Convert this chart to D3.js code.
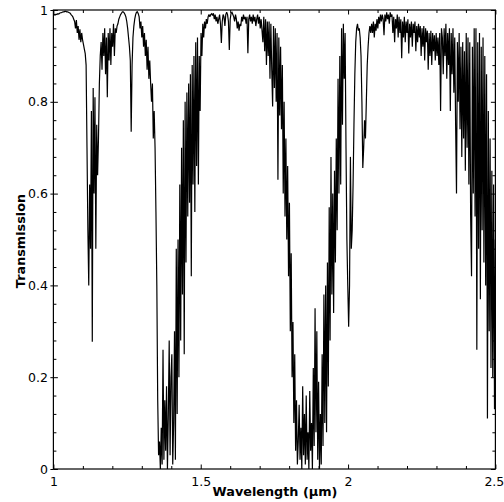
<!DOCTYPE html>
<html><head><meta charset="utf-8">
<script src="https://cdn.jsdelivr.net/npm/d3@7"></script>
<style>html,body{margin:0;padding:0;background:#fff;} svg{display:block;font-family:"DejaVu Sans",Verdana,sans-serif;}</style>
</head><body><svg id="c" width="504" height="502"></svg>
<script>
// sampling grid of the spectrum (µm)
const wavelengthStart = 1.0;
const wavelengthStep = 0.003;
// transmission, one value per grid step
const transmission = [
 0.988,0.99,0.989,0.991,0.99,0.992,0.991,0.993,0.994,0.994,0.995,0.996,0.996,0.997,0.997,0.996,0.996,0.995,0.994,0.993,0.99,0.988,0.985,0.98,
 0.975,0.96,0.978,0.95,0.965,0.935,0.958,0.93,0.95,0.935,
 0.925,0.915,0.905,
 0.88,0.70,0.52,0.40,0.62,0.48,0.78,0.277,0.83,0.60,0.81,0.48,0.75,0.64,0.72,0.84,0.90,
 0.93,0.87,0.95,0.90,0.96,0.86,0.94,0.81,0.95,0.89,0.96,0.88,0.95,0.92,0.97,0.90,0.96,
 0.95,0.965,0.97,0.98,0.985,0.99,0.993,0.996,0.996,0.994,0.99,
 0.985,0.975,0.96,0.94,0.92,
 0.89,0.735,0.88,
 0.94,0.965,0.98,0.99,0.995,0.996,0.992,
 0.985,0.96,0.975,0.94,0.965,0.92,0.95,0.90,0.935,0.87,0.92,0.85,0.89,0.84,
 0.80,0.84,0.72,0.78,0.70,
 0.56,0.40,0.15,0.03,
 0.06,0.0,0.09,0.01,0.26,0.02,0.15,0.04,0.18,0.0,0.12,0.28,0.03,0.20,0.25,0.01,0.10,
 0.30,0.02,0.48,0.12,0.50,0.20,0.62,0.28,0.70,0.38,0.76,0.25,0.80,0.45,0.82,0.55,0.84,0.58,0.86,0.42,0.88,0.62,0.90,0.56,0.93,0.66,0.94,
 0.62,0.90,0.78,0.95,0.90,0.97,0.94,0.975,0.96,0.98,0.97,0.985,
 0.99,0.985,0.99,0.992,0.988,0.993,0.98,0.99,0.975,0.985,0.97,0.98,0.99,0.97,0.928,0.975,0.99,0.985,0.965,0.99,
 0.995,0.99,0.975,0.913,0.98,0.993,0.995,0.99,0.985,0.975,0.99,0.98,0.96,0.975,0.955,0.97,0.965,0.985,0.975,0.99,
 0.98,0.985,0.97,0.985,0.906,0.98,0.99,0.975,0.985,0.97,0.99,0.975,0.985,0.965,0.98,0.99,0.97,0.985,0.96,0.98,0.955,
 0.93,0.985,0.91,0.98,0.88,0.975,0.90,0.975,0.85,0.97,0.87,0.79,0.965,0.83,0.96,0.80,0.95,0.63,0.94,0.77,0.92,0.74,0.88,0.60,
 0.80,0.55,0.72,0.50,0.66,0.42,0.58,0.30,0.47,0.20,0.32,0.10,0.25,0.04,0.15,0.01,
 0.06,0.14,0.02,0.09,0.0,0.18,0.03,0.12,0.01,0.16,0.02,0.08,0.0,0.17,0.04,0.10,0.0,0.22,0.05,0.35,0.08,0.30,0.02,0.19,0.0,0.12,0.01,0.25,0.05,0.38,
 0.10,0.40,0.08,0.45,0.18,0.57,0.28,0.68,0.38,0.60,0.34,0.65,0.45,0.72,0.52,0.85,0.60,0.90,0.62,0.96,0.75,0.97,0.85,0.95,
 0.70,0.50,0.40,0.31,0.40,0.68,0.48,0.52,0.62,0.75,0.86,0.93,0.96,0.97,0.955,0.96,0.94,0.90,0.80,0.656,0.70,0.76,0.72,0.80,0.88,0.92,0.95,0.965,0.95,0.97,
 0.95,0.975,0.94,0.97,0.955,0.98,0.96,0.985,0.97,0.99,
 0.975,0.99,0.98,0.945,0.99,0.975,0.995,0.98,0.99,0.97,
 0.995,0.985,0.99,0.95,0.985,0.93,0.98,0.96,0.99,0.94,
 0.985,0.95,0.98,0.895,0.975,0.94,0.985,0.93,0.975,0.95,
 0.98,0.905,0.97,0.94,0.975,0.92,0.97,0.95,0.975,0.91,
 0.965,0.93,0.97,0.94,0.965,0.90,0.96,0.92,0.965,0.89,
 0.96,0.93,0.955,0.87,0.95,0.90,0.955,0.88,0.95,0.91,
 0.945,0.89,0.95,0.90,0.94,0.88,0.95,0.78,0.96,
 0.94,0.86,0.96,0.90,0.97,0.85,0.95,0.88,0.96,0.78,0.95,0.86,0.96,0.82,0.94,0.75,0.60,0.93,0.80,0.95,0.74,0.92,0.68,0.93,0.72,0.91,0.65,
 0.95,0.70,0.94,0.62,0.93,0.55,0.42,0.92,0.60,0.96,0.55,0.96,0.26,0.93,0.48,0.95,0.37,0.92,0.52,0.94,
 0.45,0.90,0.40,0.86,0.11,0.78,0.30,0.72,0.22,0.65,0.20,0.62,0.13,0.50
];
const xMajorTicks = [1, 1.5, 2, 2.5];
const xTickLabels = ["1", "1.5", "2", "2.5"];
const xMinorTicks = [1.1,1.2,1.3,1.4,1.6,1.7,1.8,1.9,2.1,2.2,2.3,2.4];
const yMajorTicks = [0, 0.2, 0.4, 0.6, 0.8, 1];
const yTickLabels = ["0", "0.2", "0.4", "0.6", "0.8", "1"];
const yMinorTicks = [0.04,0.08,0.12,0.16,0.24,0.28,0.32,0.36,0.44,0.48,0.52,0.56,0.64,0.68,0.72,0.76,0.84,0.88,0.92,0.96];
const xTitle = "Wavelength (µm)";
const yTitle = "Transmission";

const L = 53.4, R = 495.4, T = 10, B = 469;
const svg = d3.select("#c");
const x = d3.scaleLinear().domain([1, 2.5]).range([L, R]);
const y = d3.scaleLinear().domain([0, 1]).range([B, T]);

svg.append("clipPath").attr("id","clip").append("rect")
  .attr("x", L).attr("y", T).attr("width", R - L).attr("height", B - T);

const line = d3.line()
  .x((d, i) => x(wavelengthStart + i * wavelengthStep))
  .y(d => y(d));
svg.append("path").datum(transmission)
  .attr("clip-path","url(#clip)")
  .attr("d", line).attr("fill","none").attr("stroke","#000")
  .attr("stroke-width", 1.2).attr("stroke-linejoin","miter").attr("stroke-miterlimit", 2);

function styleAxis(g){
  g.select(".domain").remove();
  g.selectAll(".tick line").attr("stroke","#000").attr("stroke-width",1);
  g.selectAll(".tick text").attr("fill","#000").style("font-size","12.5px").style("font-family","'DejaVu Sans',Verdana,sans-serif");
}
// bottom
svg.append("g").attr("transform",`translate(0,${B})`)
  .call(d3.axisBottom(x).tickValues(xMajorTicks).tickSize(-4.5).tickPadding(8).tickFormat((d,i)=>xTickLabels[i]))
  .call(styleAxis)
  .call(g => g.selectAll(".tick text").filter(d => d === 2.5).attr("text-anchor","end").attr("x", 8.4));
svg.append("g").attr("transform",`translate(0,${B})`)
  .call(d3.axisBottom(x).tickValues(xMinorTicks).tickSize(-3).tickFormat(""))
  .call(styleAxis);
// top
svg.append("g").attr("transform",`translate(0,${T})`)
  .call(d3.axisTop(x).tickValues(xMajorTicks).tickSize(-4.5).tickFormat(""))
  .call(styleAxis);
svg.append("g").attr("transform",`translate(0,${T})`)
  .call(d3.axisTop(x).tickValues(xMinorTicks).tickSize(-3).tickFormat(""))
  .call(styleAxis);
// left (labels + outward part of major ticks)
svg.append("g").attr("transform",`translate(${L},0)`)
  .call(d3.axisLeft(y).tickValues(yMajorTicks).tickSize(3).tickPadding(2.5).tickFormat((d,i)=>yTickLabels[i]))
  .call(styleAxis);
svg.append("g").attr("transform",`translate(${L},0)`)
  .call(d3.axisRight(y).tickValues(yMajorTicks).tickSize(4.5).tickFormat(""))
  .call(styleAxis);
svg.append("g").attr("transform",`translate(${L},0)`)
  .call(d3.axisRight(y).tickValues(yMinorTicks).tickSize(3).tickFormat(""))
  .call(styleAxis);
// right
svg.append("g").attr("transform",`translate(${R},0)`)
  .call(d3.axisLeft(y).tickValues(yMajorTicks).tickSize(4.5).tickFormat(""))
  .call(styleAxis);
svg.append("g").attr("transform",`translate(${R},0)`)
  .call(d3.axisLeft(y).tickValues(yMinorTicks).tickSize(3).tickFormat(""))
  .call(styleAxis);

// frame
svg.append("rect").attr("x", L).attr("y", T).attr("width", R - L).attr("height", B - T)
  .attr("fill","none").attr("stroke","#000").attr("stroke-width",1.2);

// titles
svg.append("text").attr("x", 275).attr("y", 496).attr("text-anchor","middle")
  .style("font-size","12.8px").style("font-weight","bold").text(xTitle);
svg.append("text").attr("transform","translate(20,241) rotate(-90)").attr("text-anchor","middle")
  .attr("dominant-baseline","central")
  .style("font-size","12.8px").style("font-weight","bold").text(yTitle);
</script>
</body></html>
